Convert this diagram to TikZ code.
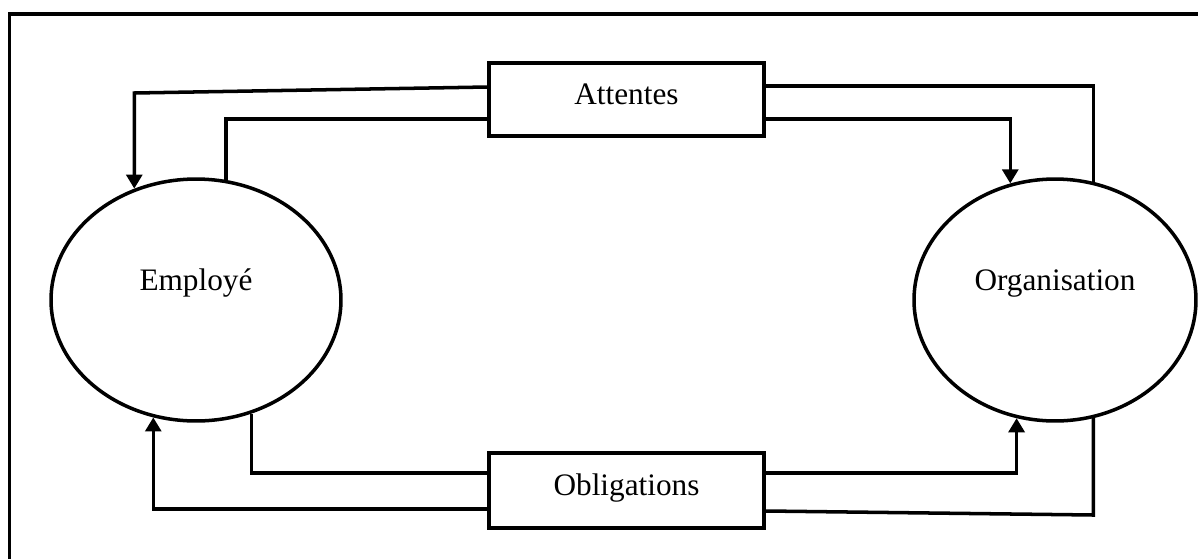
\documentclass[tikz,border=0pt]{standalone}
\usepackage{fontspec}
\setmainfont{Liberation Serif}
\usetikzlibrary{shapes.geometric,arrows.meta}

\tikzset{
  party/.style={ellipse, draw, line width=2pt, inner sep=0pt, text height=12pt, text depth=23pt},
  termbox/.style={rectangle, draw, line width=2.1pt, inner sep=0pt, minimum width=5.5cm, text height=12pt, text depth=6.5pt},
  link/.style={line width=2pt},
  flow/.style={link, -{Triangle[width=9pt,length=8pt]}}
}

\begin{document}
\begin{tikzpicture}[x=0.02cm, y=-0.02cm, font=\fontsize{17.8}{21}\selectfont]
  \useasboundingbox (0,0) rectangle (1198,559);
  % open frame
  \draw[line width=2.2pt] (9.5,559) |- (1198,13.7);

  \node[party, minimum width=5.8cm, minimum height=4.84cm] (emp) at (196,300) {Employé};
  \node[party, minimum width=5.64cm, minimum height=4.84cm] (org) at (1055,300) {Organisation};
  \node[termbox, minimum height=1.46cm] (att) at (626.5,99.5) {Attentes};
  \node[termbox, minimum height=1.5cm] (obl) at (626.5,490.5) {Obligations};

  % Attentes
  \draw[flow] ([yshift=0.25cm]att.west) -- (emp.119 |- 0,93) -- (emp.119);
  \draw[link] ([yshift=-0.39cm]att.west) -| (emp.76);
  \draw[link] ([yshift=0.27cm]att.east) -| (org.72);
  \draw[flow] ([yshift=-0.39cm]att.east) -| (org.111);

  % Obligations
  \draw[link] ([yshift=0.35cm]obl.west) -| (emp.-64);
  \draw[flow] ([yshift=-0.37cm]obl.west) -| (emp.-110);
  \draw[flow] ([yshift=0.35cm]obl.east) -| (org.-108);
  \draw[link] ([yshift=-0.41cm]obl.east) -- (org.-72 |- 0,515) -- (org.-72);
\end{tikzpicture}
\end{document}
